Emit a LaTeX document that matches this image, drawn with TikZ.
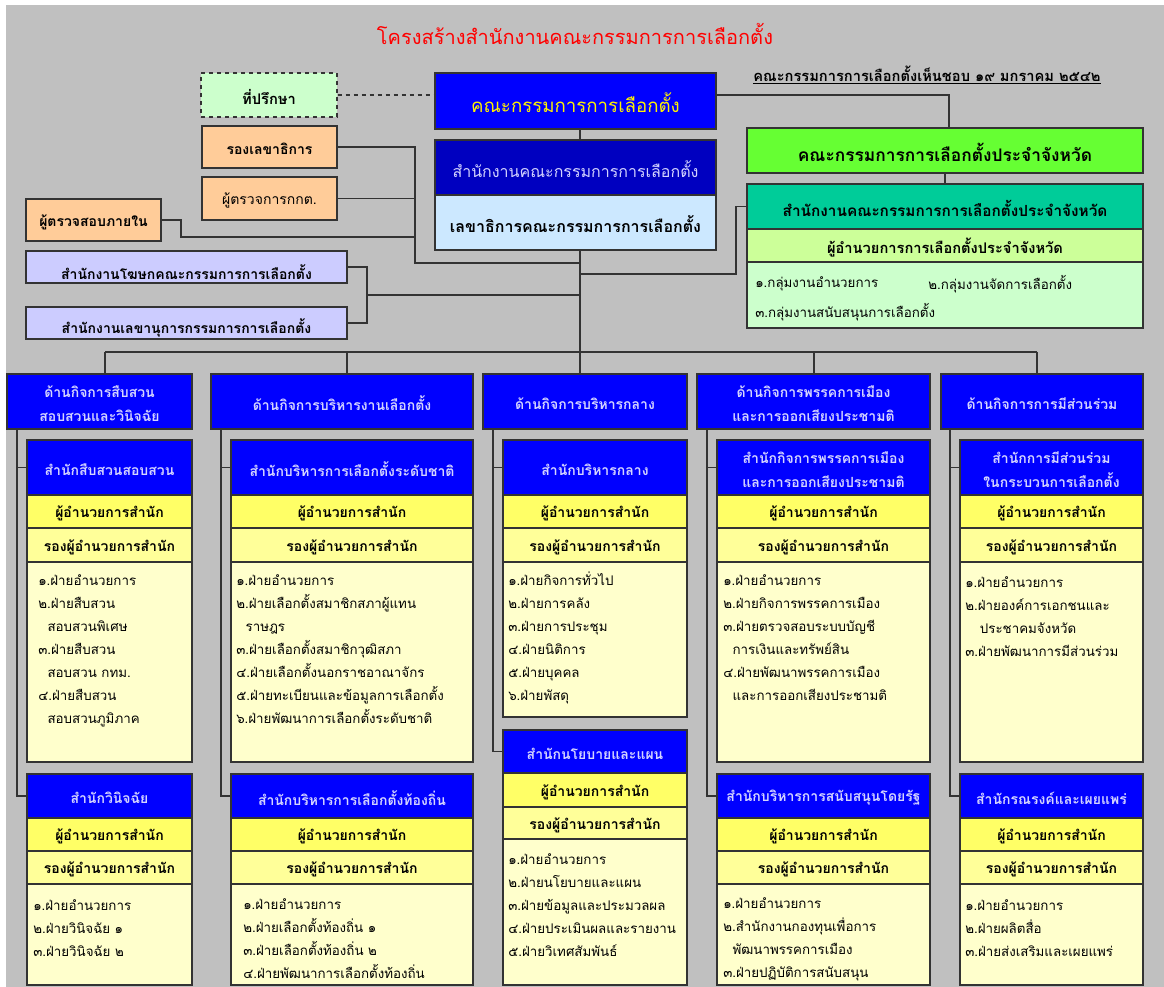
\documentclass[tikz,border=0pt]{standalone}
\usepackage{fontspec}
\setmainfont[Script=Thai]{Loma}
\usetikzlibrary{fit,calc}
\definecolor{bg}{HTML}{C0C0C0}
\definecolor{hblue}{HTML}{0000FF}
\definecolor{dblue}{HTML}{0000C0}
\definecolor{paletxt}{HTML}{D4D4FF}
\definecolor{ylwa}{HTML}{FFFF66}
\definecolor{ylwb}{HTML}{FFFF99}
\definecolor{ylwc}{HTML}{FFFFCC}
\definecolor{orng}{HTML}{FFCC99}
\definecolor{lav}{HTML}{CCCCFF}
\definecolor{advg}{HTML}{CCFFCC}
\definecolor{lgreen}{HTML}{66FF33}
\definecolor{tealc}{HTML}{00CC99}
\definecolor{ygreen}{HTML}{CCFF99}
\definecolor{pgreen}{HTML}{CCFFCC}
\definecolor{lblue}{HTML}{CCE8FF}
\definecolor{edge}{HTML}{333333}
\newcommand\fsz[2]{\fontsize{#1}{#2}\selectfont}
\tikzset{
  bx/.style={draw=edge, line width=1pt, inner sep=0pt, align=center},
  hdr/.style={fill=hblue, text=paletxt, font=\bfseries\fsz{10.5}{18.5}},
  dirbar/.style={fill=ylwa, font=\bfseries\fsz{10.5}{13}},
  depbar/.style={fill=ylwb, font=\bfseries\fsz{10.5}{13}},
  lstbox/.style={fill=ylwc},
  lt/.style={anchor=north west, inner sep=0pt, align=left, font=\fsz{10}{17.3}},
  wire/.style={draw=edge, line width=1pt},
  lbl/.style={inner sep=0pt, font=\bfseries\fsz{10.5}{13}}
}
% box: [text shift]{name}{x1}{y1}{x2}{y2}{style}{text}
\newcommand\bbox[8][-1.5pt]{%
  \node[bx,#7,fit={(#3,#4) (#5,#6)}] (#2) {};
  \node[#7, draw=none, fill=none, inner sep=0pt, align=center, yshift=#1] (#2t) at (#2.center) {#8};}
\newcommand\office[9]{%
  \bbox{h#1}{#2}{#4}{#3}{#5}{hdr}{#9}
  \bbox{a#1}{#2}{#5}{#3}{#6}{dirbar}{ผู้อำนวยการสำนัก}
  \bbox{b#1}{#2}{#6}{#3}{#7}{depbar}{รองผู้อำนวยการสำนัก}
  \bbox{l#1}{#2}{#7}{#3}{#8}{lstbox}{}
}
\begin{document}
\begin{tikzpicture}[x=0.75pt,y=-0.75pt]
\useasboundingbox (0,0) rectangle (1164,987);
\fill[white] (0,0) rectangle (1164,987);
\fill[bg] (6,5) rectangle (1164,987);

% title and note
\node[text=red, font=\fsz{15}{18}] (title) at (575,34) {โครงสร้างสำนักงานคณะกรรมการการเลือกตั้ง};
\node[lbl, font=\bfseries\fsz{11}{13}] (note) at (927,75) {\underline{คณะกรรมการการเลือกตั้งเห็นชอบ ๑๙ มกราคม ๒๕๔๒}};

% centre column
\bbox{ect}{435}{73}{716}{129}{fill=hblue, text=yellow, font=\fsz{14}{16}}{คณะกรรมการการเลือกตั้ง}
\bbox{ofc}{435}{140}{716}{195}{fill=dblue, text=paletxt, font=\fsz{12}{14}}{สำนักงานคณะกรรมการการเลือกตั้ง}
\bbox{sec}{435}{195}{716}{250}{fill=lblue, font=\bfseries\fsz{12}{14}}{เลขาธิการคณะกรรมการการเลือกตั้ง}

% left side
\bbox{adv}{201}{73}{337}{117}{dashed, fill=advg, font=\bfseries\fsz{11}{13}}{ที่ปรึกษา}
\bbox{dsg}{202}{126}{337}{168}{fill=orng, font=\bfseries\fsz{10.5}{13}}{รองเลขาธิการ}
\bbox{insp}{202}{177}{337}{220}{fill=orng, font=\fsz{10.5}{13}}{ผู้ตรวจการกกต.}
\bbox{aud}{26}{199}{161}{241}{fill=orng, font=\bfseries\fsz{10.5}{13}}{ผู้ตรวจสอบภายใน}
\bbox[-3.5pt]{spk}{26}{251}{347}{283}{fill=lav, font=\bfseries\fsz{10.5}{13}}{สำนักงานโฆษกคณะกรรมการการเลือกตั้ง}
\bbox[-3.5pt]{sct}{26}{307}{347}{339}{fill=lav, font=\bfseries\fsz{10.5}{13}}{สำนักงานเลขานุการกรรมการการเลือกตั้ง}

% right side
\bbox{pg}{747}{128}{1143}{173}{fill=lgreen, font=\bfseries\fsz{13}{15}}{คณะกรรมการการเลือกตั้งประจำจังหวัด}
\bbox{po}{747}{184}{1143}{229}{fill=tealc, font=\bfseries\fsz{11.5}{14}}{สำนักงานคณะกรรมการการเลือกตั้งประจำจังหวัด}
\bbox{pd}{747}{229}{1143}{262}{fill=ygreen, font=\bfseries\fsz{11}{13}}{ผู้อำนวยการการเลือกตั้งประจำจังหวัด}
\bbox{pl}{747}{262}{1143}{328}{fill=pgreen}{}
\node[anchor=west, inner sep=0pt, font=\fsz{10}{12}] (pl1) at (755,284) {๑.กลุ่มงานอำนวยการ};
\node[anchor=west, inner sep=0pt, font=\fsz{10}{12}] (pl2) at (928,284) {๒.กลุ่มงานจัดการเลือกตั้ง};
\node[anchor=west, inner sep=0pt, font=\fsz{10}{12}] (pl3) at (755,312) {๓.กลุ่มงานสนับสนุนการเลือกตั้ง};

% divisions
\bbox{d1}{7}{374}{192}{429}{hdr}{ด้านกิจการสืบสวน\\สอบสวนและวินิจฉัย}
\bbox{d2}{211}{374}{473}{429}{hdr}{ด้านกิจการบริหารงานเลือกตั้ง}
\bbox{d3}{483}{374}{687}{429}{hdr}{ด้านกิจการบริหารกลาง}
\bbox{d4}{697}{374}{930}{429}{hdr}{ด้านกิจการพรรคการเมือง\\และการออกเสียงประชามติ}
\bbox{d5}{941}{374}{1143}{429}{hdr}{ด้านกิจการการมีส่วนร่วม}

% offices
\office{1a}{27}{192}{440}{495}{528}{562}{762}{สำนักสืบสวนสอบสวน}
\office{2a}{231}{473}{440}{495}{528}{562}{762}{สำนักบริหารการเลือกตั้งระดับชาติ}
\office{3a}{503}{687}{440}{495}{528}{562}{717}{สำนักบริหารกลาง}
\office{4a}{717}{930}{440}{495}{528}{562}{762}{สำนักกิจการพรรคการเมือง\\และการออกเสียงประชามติ}
\office{5a}{960}{1143}{440}{495}{528}{562}{762}{สำนักการมีส่วนร่วม\\ในกระบวนการเลือกตั้ง}
\office{1b}{27}{192}{774}{818}{851}{884}{985}{สำนักวินิจฉัย}
\office{2b}{231}{473}{774}{818}{851}{884}{985}{สำนักบริหารการเลือกตั้งท้องถิ่น}
\office{3b}{503}{687}{730}{773}{807}{839}{985}{สำนักนโยบายและแผน}
\office{4b}{717}{930}{774}{818}{851}{884}{985}{สำนักบริหารการสนับสนุนโดยรัฐ}
\office{5b}{960}{1143}{774}{818}{851}{884}{985}{สำนักรณรงค์และเผยแพร่}

% lists
\node[lt] (t1a) at (38,569) {\rule{0pt}{12pt}๑.ฝ่ายอำนวยการ\\๒.ฝ่ายสืบสวน\\\hspace*{7pt}สอบสวนพิเศษ\\๓.ฝ่ายสืบสวน\\\hspace*{7pt}สอบสวน กทม.\\๔.ฝ่ายสืบสวน\\\hspace*{7pt}สอบสวนภูมิภาค};
\node[lt] (t1b) at (33,894) {\rule{0pt}{12pt}๑.ฝ่ายอำนวยการ\\๒.ฝ่ายวินิจฉัย ๑\\๓.ฝ่ายวินิจฉัย ๒};
\node[lt] (t2a) at (236,569) {\rule{0pt}{12pt}๑.ฝ่ายอำนวยการ\\๒.ฝ่ายเลือกตั้งสมาชิกสภาผู้แทน\\\hspace*{7pt}ราษฎร\\๓.ฝ่ายเลือกตั้งสมาชิกวุฒิสภา\\๔.ฝ่ายเลือกตั้งนอกราชอาณาจักร\\๕.ฝ่ายทะเบียนและข้อมูลการเลือกตั้ง\\๖.ฝ่ายพัฒนาการเลือกตั้งระดับชาติ};
\node[lt] (t2b) at (243,893) {\rule{0pt}{12pt}๑.ฝ่ายอำนวยการ\\๒.ฝ่ายเลือกตั้งท้องถิ่น ๑\\๓.ฝ่ายเลือกตั้งท้องถิ่น ๒\\๔.ฝ่ายพัฒนาการเลือกตั้งท้องถิ่น};
\node[lt] (t3a) at (508,569) {\rule{0pt}{12pt}๑.ฝ่ายกิจการทั่วไป\\๒.ฝ่ายการคลัง\\๓.ฝ่ายการประชุม\\๔.ฝ่ายนิติการ\\๕.ฝ่ายบุคคล\\๖.ฝ่ายพัสดุ};
\node[lt] (t3b) at (508,848) {\rule{0pt}{12pt}๑.ฝ่ายอำนวยการ\\๒.ฝ่ายนโยบายและแผน\\๓.ฝ่ายข้อมูลและประมวลผล\\๔.ฝ่ายประเมินผลและรายงาน\\๕.ฝ่ายวิเทศสัมพันธ์};
\node[lt] (t4a) at (723,569) {\rule{0pt}{12pt}๑.ฝ่ายอำนวยการ\\๒.ฝ่ายกิจการพรรคการเมือง\\๓.ฝ่ายตรวจสอบระบบบัญชี\\\hspace*{7pt}การเงินและทรัพย์สิน\\๔.ฝ่ายพัฒนาพรรคการเมือง\\\hspace*{7pt}และการออกเสียงประชามติ};
\node[lt] (t4b) at (723,892) {\rule{0pt}{12pt}๑.ฝ่ายอำนวยการ\\๒.สำนักงานกองทุนเพื่อการ\\\hspace*{7pt}พัฒนาพรรคการเมือง\\๓.ฝ่ายปฏิบัติการสนับสนุน};
\node[lt] (t5a) at (965,571) {\rule{0pt}{12pt}๑.ฝ่ายอำนวยการ\\๒.ฝ่ายองค์การเอกชนและ\\\hspace*{11pt}ประชาคมจังหวัด\\๓.ฝ่ายพัฒนาการมีส่วนร่วม};
\node[lt] (t5b) at (965,894) {\rule{0pt}{12pt}๑.ฝ่ายอำนวยการ\\๒.ฝ่ายผลิตสื่อ\\๓.ฝ่ายส่งเสริมและเผยแพร่};

% connectors (top)
\coordinate (tk) at (580,0);
\draw[wire,dashed] (adv.east) -- (adv.east -| ect.west);
\draw[wire] (tk |- ect.south) -- (tk |- ofc.north);
\draw[wire] (tk |- sec.south) -- (tk |- d3.north);
\coordinate (r1) at (949,95);
\draw[wire] (ect.east |- r1) -- (r1) -- (r1 |- pg.north);
\draw[wire] (pg.south) -- (po.north);
\coordinate (r2) at (736,274);
\draw[wire] (po.west) -| (r2) -- (tk |- r2);
\coordinate (l1) at (415,263);
\draw[wire] (dsg.east) -| (l1) -- (tk |- l1);
\draw[wire] (insp.east) -- (insp.east -| l1);
\coordinate (l2) at (181,237);
\draw[wire] (aud.east) -| (l2) -- (l2 -| l1);
\coordinate (l3) at (367,295);
\draw[wire] (spk.east) -| (l3);
\draw[wire] (sct.east) -| (l3);
\draw[wire] (l3) -- (tk |- l3);

% bus
\coordinate (b1) at (105,352);
\coordinate (b2) at (347,352);
\coordinate (b4) at (814,352);
\coordinate (b5) at (1037,352);
\draw[wire] (b1) -- (b5);
\draw[wire] (b1) -- (b1 |- d1.north);
\draw[wire] (b2) -- (b2 |- d2.north);
\draw[wire] (b4) -- (b4 |- d4.north);
\draw[wire] (b5) -- (b5 |- d5.north);

% spines
\coordinate (s1) at (17,0);
\coordinate (s2) at (221,0);
\coordinate (s3) at (493,0);
\coordinate (s4) at (707,0);
\coordinate (s5) at (950,0);
\draw[wire] (s1 |- d1.south) |- (h1b.west);
\draw[wire] (s1 |- h1a.west) -- (h1a.west);
\draw[wire] (s2 |- d2.south) |- (h2b.west);
\draw[wire] (s2 |- h2a.west) -- (h2a.west);
\draw[wire] (s3 |- d3.south) |- (h3b.west);
\draw[wire] (s3 |- h3a.west) -- (h3a.west);
\draw[wire] (s4 |- d4.south) |- (h4b.west);
\draw[wire] (s4 |- h4a.west) -- (h4a.west);
\draw[wire] (s5 |- d5.south) |- (h5b.west);
\draw[wire] (s5 |- h5a.west) -- (h5a.west);
\end{tikzpicture}
\end{document}
